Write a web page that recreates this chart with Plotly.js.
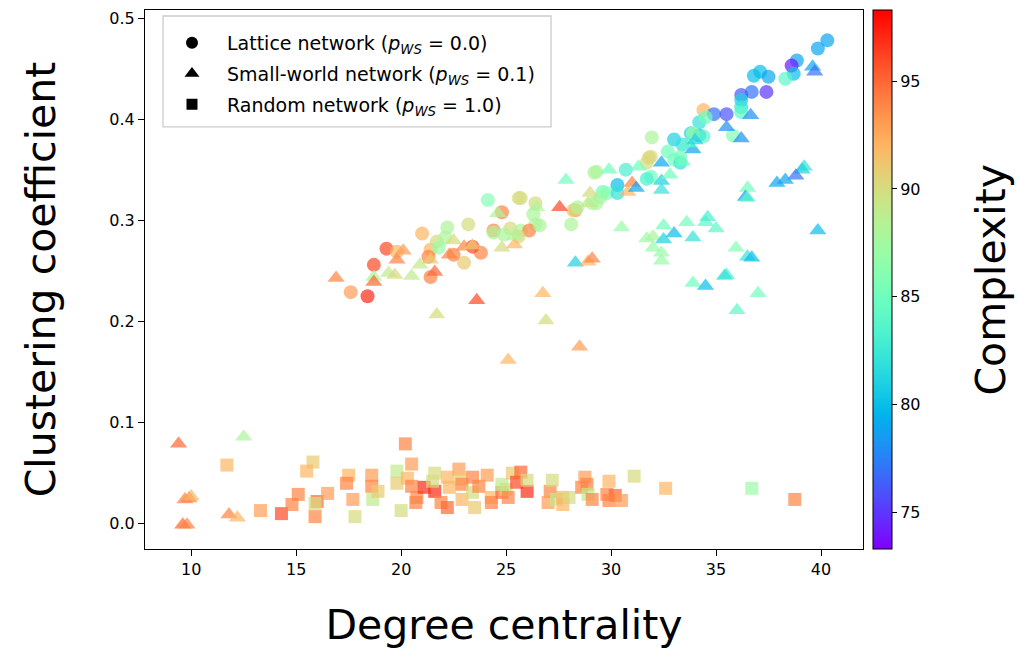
<!DOCTYPE html>
<html>
<head>
<meta charset="utf-8">
<script src="https://cdn.plot.ly/plotly-3.0.1.min.js"></script>
<style>html,body{margin:0;padding:0;background:#fff;}#chart{width:1019px;height:652px;}</style>
</head>
<body>
<div id="chart"></div>
<script>
// Lattice network (p_WS = 0.0)
const latticeX = [24.13,24.8,22.2,23.2,21.0,24.4,25.2,19.3,18.7,17.6,18.4,21.4,21.7,22.1,21.8,21.3,21.4,23.0,23.8,23.4,19.8,22.5,24.4,25.6,
  31.94,33.0,33.4,31.8,31.9,32.7,30.7,29.3,30.3,29.6,29.8,30.3,31.9,31.7,29.5,29.3,28.3,28.2,28.4,28.1,25.7,26.4,26.3,26.4,25.7,26.1,24.9,25.6,33.0,33.3,33.8,34.2,
  40.3,39.85,38.85,38.6,38.7,38.3,37.1,36.8,37.5,37.4,36.7,36.2,36.2,36.2,36.2,34.4,34.9,35.5,34.2,34.5,35.8,33.9,34.4,33.3,29.2,26.6,29.1,31.7];
const latticeY = [0.320,0.308,0.293,0.296,0.287,0.290,0.292,0.272,0.256,0.229,0.225,0.271,0.279,0.283,0.273,0.264,0.244,0.258,0.268,0.274,0.269,0.266,0.288,0.322,
  0.382,0.380,0.375,0.362,0.363,0.368,0.350,0.348,0.335,0.328,0.327,0.327,0.343,0.341,0.323,0.317,0.310,0.310,0.313,0.296,0.322,0.317,0.306,0.296,0.290,0.290,0.286,0.284,0.360,0.357,0.386,0.384,
  0.478,0.470,0.458,0.453,0.445,0.440,0.447,0.443,0.442,0.427,0.427,0.424,0.419,0.412,0.407,0.409,0.405,0.405,0.397,0.402,0.384,0.386,0.383,0.363,0.347,0.295,0.317,0.357];
const latticeC = [86,94,88,90,92,94,90,96,96,93,97,92,90,88,87,94,94,91,94,96,92,94,88,90,
  88,81,82,91,90,85,83,88,80,85,86,82,85,83,87,88,93,91,88,88,90,90,88,88,88,94,88,90,85,82,81,80,
  79,79,79,74,80,84,80,80,79,75,77,76,81,82,84,92,77,76,82,85,86,87,84,85,88,88,88,90];

// Small-world network (p_WS = 0.1)
const smallX = [16.9,18.7,18.7,19.4,19.7,20.5,19.8,20.1,20.9,21.4,21.6,22.3,22.5,23.0,23.4,23.6,21.7,24.8,25.4,24.6,25.4,
  27.85,27.55,29.0,28.9,29.9,31.3,31.0,30.8,31.2,32.4,32.4,32.4,32.8,33.4,33.9,33.7,26.45,30.5,28.3,28.9,29.1,26.75,
  31.7,32.0,32.5,32.5,32.0,32.4,32.4,33.0,33.6,33.9,34.5,34.6,35.0,33.9,34.5,35.5,35.4,35.95,36.5,36.7,36.5,36.4,36.5,37.0,36.0,26.9,25.1,28.5,
  39.6,39.7,36.65,35.5,36.2,34.0,39.2,39.1,38.8,38.3,37.9,39.85,
  9.4,12.5,9.7,9.9,10.0,9.6,9.8,11.8,12.2];
const smallY = [0.243,0.244,0.239,0.248,0.246,0.245,0.261,0.270,0.256,0.261,0.249,0.266,0.280,0.274,0.275,0.221,0.207,0.273,0.276,0.307,0.284,
  0.340,0.313,0.327,0.317,0.350,0.353,0.337,0.328,0.332,0.357,0.339,0.330,0.345,0.358,0.370,0.376,0.313,0.293,0.258,0.259,0.262,0.228,
  0.282,0.284,0.295,0.281,0.273,0.268,0.260,0.287,0.298,0.283,0.298,0.303,0.292,0.238,0.235,0.246,0.245,0.273,0.264,0.263,0.332,0.323,0.322,0.228,0.211,0.201,0.162,0.175,
  0.452,0.447,0.404,0.392,0.381,0.379,0.353,0.350,0.344,0.340,0.337,0.290,
  0.079,0.086,0.024,0.025,0.027,-0.001,-0.001,0.009,0.006];
const smallC = [94,88,95,89,90,89,94,93,89,91,95,94,90,94,91,96,90,90,92,88,88,
  85,96,90,89,85,85,94,92,79,79,81,82,85,85,79,84,88,87,81,92,94,92,
  87,88,85,81,87,87,87,80,85,82,84,83,84,85,80,83,82,86,82,80,85,79,84,85,84,90,92,93,
  79,77,78,78,78,81,82,81,77,79,79,80,
  95,88,94,94,92,95,94,94,92];

// Random network (p_WS = 1.0)
const randomX = [11.7,15.8,15.5,13.3,14.3,14.8,15.1,16.0,15.9,15.9,16.5,17.5,17.4,17.7,17.8,18.6,18.6,18.65,18.9,
  20.2,20.5,19.8,19.8,20.3,20.5,20.75,20.7,20.0,21.1,21.6,21.6,21.5,22.2,21.9,22.2,22.3,22.75,22.8,22.9,22.9,23.4,23.4,23.5,23.7,24.1,24.3,24.3,24.8,25.0,24.8,25.1,25.3,25.5,25.7,26.0,26.0,27.1,27.2,27.0,27.4,27.7,
  27.7,28.0,28.75,28.85,28.6,28.9,29.1,29.9,29.8,30.2,29.9,30.5,31.1,32.6,36.7,38.75];
const randomY = [0.058,0.061,0.052,0.013,0.010,0.019,0.029,0.022,0.020,0.007,0.030,0.048,0.040,0.024,0.007,0.048,0.037,0.024,0.032,
  0.079,0.059,0.052,0.040,0.045,0.037,0.026,0.021,0.013,0.036,0.032,0.050,0.042,0.046,0.021,0.016,0.036,0.054,0.044,0.039,0.024,0.046,0.031,0.016,0.037,0.048,0.026,0.021,0.031,0.034,0.039,0.026,0.050,0.041,0.051,0.032,0.043,0.032,0.043,0.021,0.024,0.026,
  0.019,0.026,0.046,0.039,0.036,0.029,0.024,0.042,0.029,0.028,0.023,0.023,0.047,0.035,0.035,0.024];
const randomC = [92,91,92,93,96,94,94,95,90,94,93,92,94,93,90,93,94,89,91,
  94,93,89,91,92,94,94,94,90,97,97,90,90,92,94,95,92,93,91,94,92,94,90,91,94,93,92,94,95,90,89,94,91,96,95,97,90,94,90,93,89,92,
  92,90,93,94,94,89,94,92,94,95,94,93,90,92,87,94];

const cbTicks = [75, 80, 85, 90, 95];
const legendNames = [
  'Lattice network (<i>p</i><sub><i>WS</i></sub> = 0.0)',
  'Small-world network (<i>p</i><sub><i>WS</i></sub> = 0.1)',
  'Random network (<i>p</i><sub><i>WS</i></sub> = 1.0)'
];

// matplotlib "rainbow" colormap
const rainbow = [];
for (let i = 0; i <= 20; i++) {
  const t = i / 20;
  const cl = v => Math.round(255 * Math.max(0, Math.min(1, v)));
  rainbow.push([t, `rgb(${cl(Math.abs(2*t-0.5))},${cl(Math.sin(Math.PI*t))},${cl(Math.cos(Math.PI*t/2))})`]);
}
const CMIN = 73.3, CMAX = 98.3;
const FONT = 'DejaVu Sans, sans-serif';

function mk(x, y, c, symbol, size, withBar) {
  const m = {color: c, colorscale: rainbow, cmin: CMIN, cmax: CMAX, symbol: symbol, size: size, opacity: 0.7, line: {width: 0}};
  if (withBar) {
    m.showscale = true;
    m.colorbar = {x: 1.014, xanchor: 'left', xpad: 0, y: 0.5, yanchor: 'middle', len: 1, lenmode: 'fraction', ypad: 0,
      thickness: 19, outlinewidth: 1, outlinecolor: '#000', ticks: 'outside', ticklen: 5, tickwidth: 1, tickcolor: '#000',
      tickvals: cbTicks, ticktext: cbTicks.map(String), tickfont: {family: FONT, size: 16, color: '#000'}};
  } else m.showscale = false;
  return {type: 'scatter', mode: 'markers', x: x, y: y, marker: m, showlegend: false, hoverinfo: 'x+y'};
}
function leg(name, symbol, size, g) {
  return {type: 'scatter', mode: 'markers', x: [null], y: [null], name: name, legendgroup: g,
    marker: {color: '#000', symbol: symbol, size: size}, showlegend: true};
}

const data = [
  mk(latticeX, latticeY, latticeC, 'circle', 14, true),
  mk(smallX, smallY, smallC, 'triangle-up', 15, false),
  mk(randomX, randomY, randomC, 'square', 13, false),
  leg(legendNames[0], 'circle', 12, 'a'),
  leg(legendNames[1], 'triangle-up', 13, 'b'),
  leg(legendNames[2], 'square', 11, 'c')
];

const axisCommon = {showline: true, linecolor: '#000', linewidth: 1, mirror: true, ticks: 'outside', ticklen: 6, tickwidth: 1,
  tickcolor: '#000', showgrid: false, zeroline: false, tickfont: {family: FONT, size: 16, color: '#000'}};

const layout = {
  width: 1019, height: 652,
  margin: {l: 145, r: 156, t: 10, b: 103},
  paper_bgcolor: '#fff', plot_bgcolor: '#fff',
  font: {family: FONT, color: '#000'},
  xaxis: Object.assign({}, axisCommon, {range: [7.8, 42.0], tickvals: [10,15,20,25,30,35,40], ticklabelstandoff: 0,
    title: {text: 'Degree centrality', font: {family: FONT, size: 41, color: '#000'}, standoff: 32}}),
  yaxis: Object.assign({}, axisCommon, {range: [-0.025, 0.508], tickvals: [0,0.1,0.2,0.3,0.4,0.5], tickformat: '.1f',
    title: {text: 'Clustering coefficient', font: {family: FONT, size: 41, color: '#000'}, standoff: 40}}),
  legend: {x: 0.0167, y: 0.974, xanchor: 'left', yanchor: 'top', bgcolor: 'rgba(0,0,0,0)', borderwidth: 0,
    font: {family: FONT, size: 19, color: '#000'}, itemwidth: 60, tracegroupgap: 3},
  shapes: [{type: 'rect', xref: 'paper', yref: 'paper', x0: 0.0251, x1: 0.5655, y0: 0.783, y1: 0.9889,
    fillcolor: 'rgba(255,255,255,0.8)', line: {color: '#cccccc', width: 1.3}, layer: 'above'}],
  annotations: [{text: 'Complexity', xref: 'paper', yref: 'paper', x: 1.177, y: 0.5, textangle: -90, showarrow: false,
    font: {family: FONT, size: 41, color: '#000'}, xanchor: 'center', yanchor: 'middle'}]
};

Plotly.newPlot('chart', data, layout, {displayModeBar: false, staticPlot: true});
</script>
</body>
</html>
